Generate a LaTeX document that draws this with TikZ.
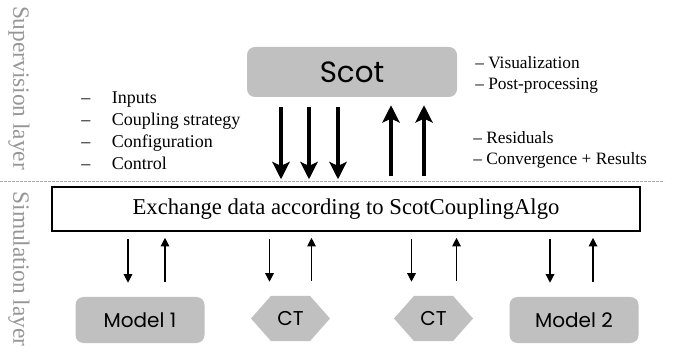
\documentclass[tikz,border=0pt]{standalone}
\usepackage{fontspec}
\setmainfont{Liberation Serif}
\newfontfamily\handfont{Poppins}
\usetikzlibrary{arrows.meta,shapes.symbols,calc}

\definecolor{boxgray}{RGB}{192,192,192}
\definecolor{layergray}{RGB}{150,150,150}
\definecolor{linegray}{RGB}{170,170,170}

\tikzset{
  graybox/.style={fill=boxgray,rounded corners=6pt,inner sep=0pt,
    minimum width=96.75pt,minimum height=34.5pt,font=\handfont\fontsize{15}{17}\selectfont},
  hexbox/.style={signal,signal to=west and east,signal pointer angle=97,fill=boxgray,
    inner sep=0pt,minimum width=59.25pt,minimum height=33.75pt,font=\handfont\fontsize{15}{17}\selectfont},
  bigarr/.style={line width=2.4pt,-{Stealth[length=13pt,width=13pt,inset=3pt]}},
  smallarr/.style={line width=0.9pt,-{Triangle[length=6.5pt,width=6.5pt]}},
  layerlabel/.style={rotate=-90,text=layergray,inner sep=0pt,font=\fontsize{17.5}{20}\selectfont},
  listtext/.style={align=left,inner sep=0pt,font=\fontsize{13.5}{16.5}\selectfont}
}

\begin{document}
\begin{tikzpicture}[x=0.75pt,y=0.75pt,yscale=-1,xscale=1]
\useasboundingbox (0,0) rectangle (681,352);

% Layer labels
\node[layerlabel] (suplabel) at (19,88) {Supervision layer};
\node[layerlabel] (simlabel) at (19,269) {Simulation layer};

% Separation line
\coordinate (sepl) at (0,181);
\coordinate (sepr) at (664,181);
\draw[linegray,line width=0.6pt,dash pattern=on 2pt off 1pt] (sepl) -- (sepr);

% Supervisor
\node[graybox,minimum width=157.5pt,minimum height=37.5pt,font=\handfont\fontsize{22}{26}\selectfont] (scot) at (352,72) {Scot};

% Exchange box
\node[draw,line width=1.2pt,fill=white,minimum width=441pt,minimum height=33pt,
  font=\fontsize{17}{20}\selectfont] (exch) at (346,209) {Exchange data according to ScotCouplingAlgo};

% Simulation components
\node[graybox] (model1) at (140,320) {Model 1};
\node[hexbox] (ct1) at (290.5,318.5) {CT};
\node[hexbox] (ct2) at (433.5,318.5) {CT};
\node[graybox] (model2) at (574,320) {Model 2};

% Arrows supervision <-> exchange
\foreach \dx in {-71,-43,-14}
  \draw[bigarr] ($(scot.south)+(\dx,10)$) -- ($(scot.south)+(\dx,82)$);
\foreach \dx in {39,72}
  \draw[bigarr] ($(scot.south)+(\dx,79)$) -- ($(scot.south)+(\dx,8)$);

% Arrows exchange <-> components
\foreach \comp/\dn/\up in {model1/-12/25, ct1/-21/21, ct2/-22/23, model2/-24/19}{
  \draw[smallarr] ($(exch.south -| \comp.north)+(\dn,7)$) -- ($(\comp.north)+(\dn,-14)$);
  \draw[smallarr] ($(\comp.north)+(\up,-15)$) -- ($(exch.south -| \comp.north)+(\up,6)$);
}

% Text Node
\node[listtext,anchor=north west] (inlist) at (81,91)
  {\makebox[23pt][l]{--}Inputs\\ \makebox[23pt][l]{--}Coupling strategy\\
   \makebox[23pt][l]{--}Configuration\\ \makebox[23pt][l]{--}Control};
% Text Node
\node[listtext,anchor=north west,font=\fontsize{13}{16}\selectfont] (outlist1) at (475,56)
  {-- Visualization\\ -- Post-processing};
% Text Node
\node[listtext,anchor=north west,font=\fontsize{13}{16}\selectfont] (outlist2) at (473,131)
  {-- Residuals\\ -- Convergence + Results};

\end{tikzpicture}
\end{document}
